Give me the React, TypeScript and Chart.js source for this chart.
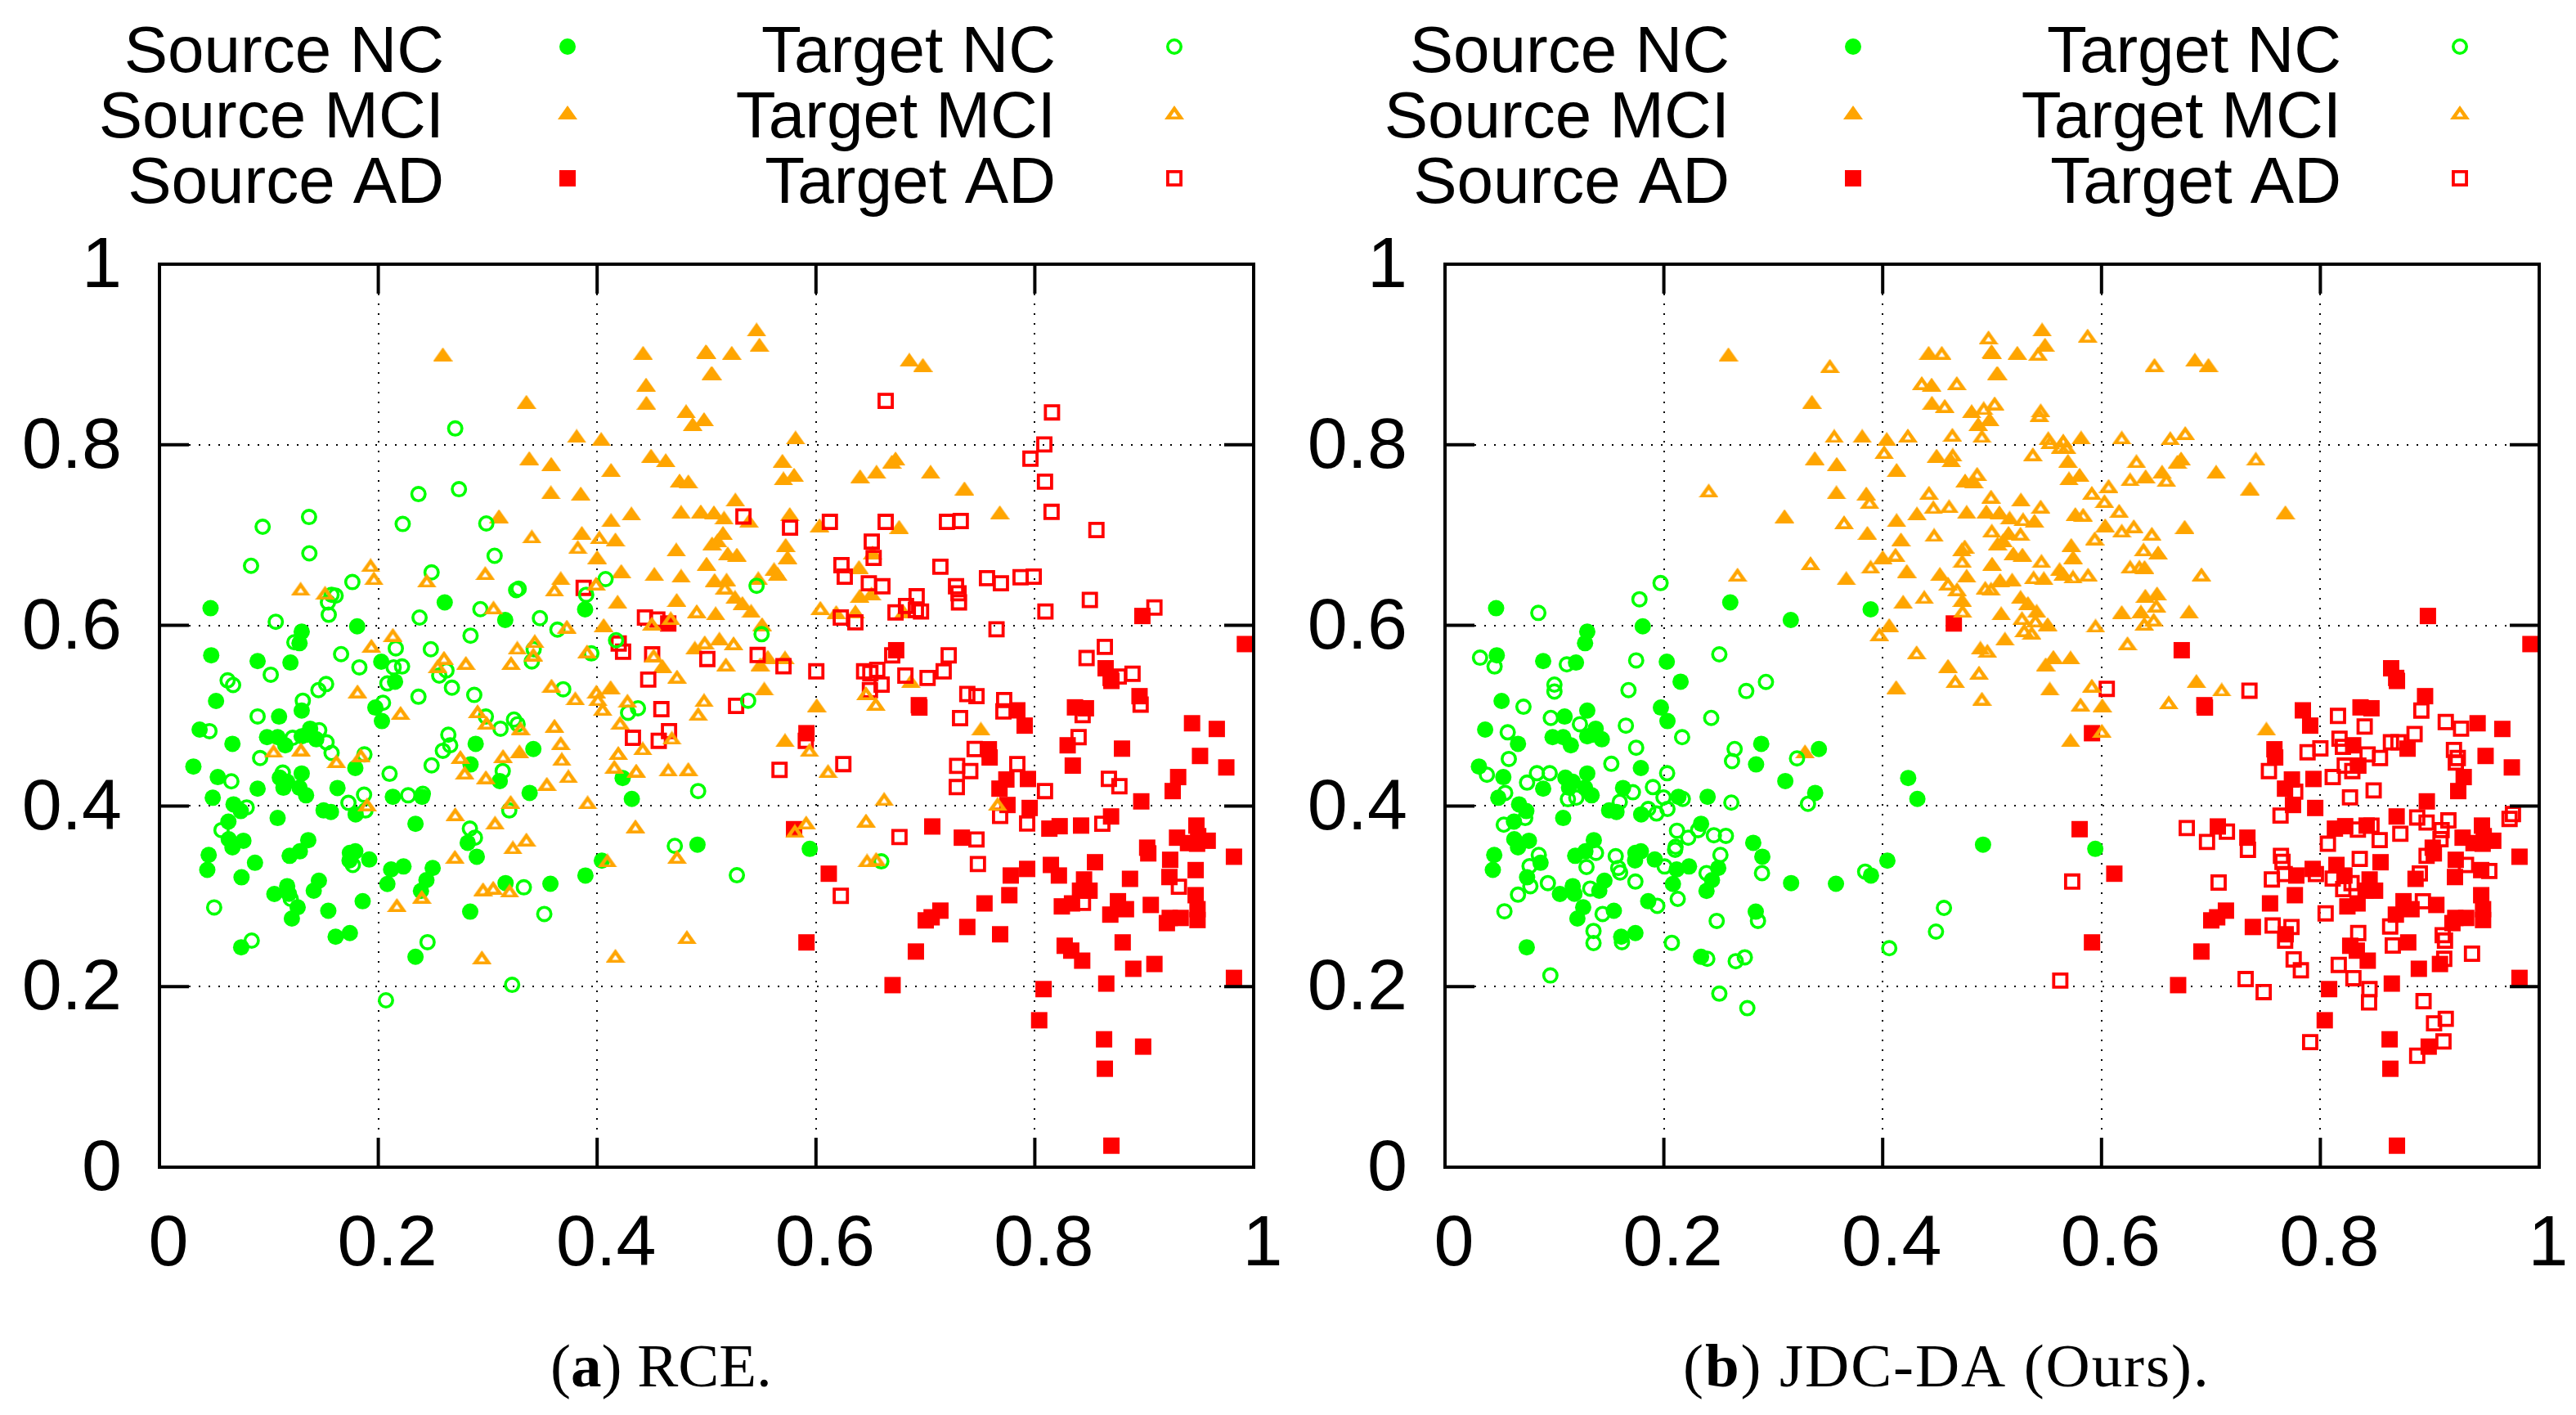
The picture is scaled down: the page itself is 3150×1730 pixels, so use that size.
import React, { useEffect, useRef } from "react";
import { Chart, registerables } from "chart.js";
import { drawPoint } from "chart.js/helpers";

Chart.register(...registerables);

type P = [number, number];

const tickLabels = ["0", "0.2", "0.4", "0.6", "0.8", "1"];
const legendNames = [
  ["Source NC", "Source MCI", "Source AD"],
  ["Target NC", "Target MCI", "Target AD"],
];
const captionA = [["(", "n"], ["a", "b"], [") RCE.", "n"]];
const captionB = [["(", "n"], ["b", "b"], [") JDC-DA (Ours).", "n"]];

const sourceNC: P[] = [
  [.0467,.619],[.2607,.6255],[.1807,.599],[.13,.593],[.128,.5803],[.316,.606],[.389,.6178],[.0473,.5669],[.0897,.5605],[.1197,.5588],
  [.2027,.5598],[.2153,.5377],[.0517,.5163],[.1093,.499],[.13,.5057],[.1973,.509],[.2033,.494],[.0367,.4846],[.0667,.4688],[.0983,.4762],
  [.108,.4762],[.115,.4672],[.13,.4772],[.1377,.4856],[.1433,.4739],[.135,.479],[.179,.442],[.289,.4688],[.3417,.4631],[.2843,.446],
  [.031,.4437],[.0533,.432],[.0897,.4192],[.11,.4313],[.1167,.4269],[.1133,.4202],[.13,.436],[.128,.4202],[.134,.4118],[.1627,.4199],
  [.0487,.4091],[.0677,.4018],[.0743,.3944],[.063,.3827],[.108,.3867],[.15,.3951],[.1567,.3934],[.1793,.3907],[.2133,.4102],[.24,.4102],
  [.311,.4276],[.3383,.4145],[.4233,.431],[.4317,.4078],[.234,.3803],[.2817,.3592],[.29,.3438],[.0633,.3632],[.0767,.3615],[.0667,.3542],
  [.136,.3622],[.1283,.3498],[.119,.3448],[.045,.3458],[.0437,.3293],[.0873,.3371],[.075,.321],[.174,.3481],[.179,.3498],[.1737,.3397],
  [.1917,.3407],[.2117,.3297],[.223,.333],[.2083,.3136],[.2497,.3313],[.244,.3179],[.239,.3059],[.4043,.3394],[.3893,.323],[.3573,.3139],
  [.3163,.3146],[.1167,.3112],[.105,.3025],[.1183,.3028],[.1457,.3173],[.141,.3062],[.1857,.2945],[.1263,.2878],[.121,.2754],[.1543,.284],
  [.284,.283],[.174,.2593],[.161,.2552],[.0747,.2435],[.234,.233],[.4917,.3572],[.5943,.3525],
];

const sourceMCI: P[] = [
  [.259,.9002],[.442,.9019],[.4993,.9035],[.5043,.8794],[.4447,.8667],[.445,.8466],[.3353,.8476],[.4813,.8372],[.4977,.8285],[.4873,.8231],
  [.3813,.8098],[.4037,.8064],[.338,.7853],[.358,.7789],[.4493,.788],[.4627,.783],[.4127,.7722],[.4753,.7605],[.4833,.7595],[.3577,.7474],
  [.385,.7461],[.3103,.721],[.4127,.7166],[.4313,.724],[.4767,.7257],[.4947,.7263],[.5067,.7253],[.386,.7025],[.4167,.6952],[.4723,.6841],
  [.4,.6757],[.422,.6603],[.5,.6684],[.3667,.6523],[.4523,.657],[.4767,.655],[.4187,.6262],[.4727,.6282],[.5083,.6134],[.406,.6004],
  [.4893,.5752],[.4597,.5552],[.4123,.5317],[.5073,.6503],[.505,.6908],[.329,.4605],[.5457,.9277],[.5483,.9109],[.5,.9029],[.523,.9019],
  [.505,.8794],[.5813,.8081],[.5693,.7823],[.5703,.7628],[.58,.7669],[.6403,.7652],[.6553,.7702],[.6693,.7813],[.6727,.7849],[.7047,.7702],
  [.7357,.7518],[.5263,.7394],[.768,.7253],[.516,.7193],[.576,.7233],[.5387,.716],[.6033,.7109],[.676,.7092],[.515,.7025],[.51,.6942],
  [.5723,.6891],[.574,.6757],[.5193,.6798],[.5277,.6784],[.6517,.6808],[.6393,.6647],[.5617,.6623],[.565,.6573],[.5183,.6506],[.5473,.6523],
  [.526,.6315],[.5327,.6248],[.5407,.6161],[.64,.6329],[.6507,.6355],[.5507,.6014],[.5117,.5853],[.556,.5652],[.5717,.5645],[.549,.557],
  [.6867,.5384],[.5527,.53],[.6007,.5116],[.6185,.6148],[.636,.6153],[.68,.6153],[.7507,.4856],[.5717,.4729],[.6853,.8942],[.6977,.8885],
];

const sourceAD: P[] = [
  [.465,.6021],[.6733,.5725],[.8983,.6104],[.992,.5793],[.8647,.5525],[.8693,.5418],[.87,.5385],[.694,.5116],[.6945,.509],[.784,.5059],
  [.8367,.5092],[.8467,.5082],[.8957,.5216],[.9437,.4916],[.9663,.4853],[.5913,.4806],[.7907,.489],[.758,.4628],[.7587,.4537],[.83,.4672],
  [.8797,.4635],[.8347,.4447],[.951,.4554],[.975,.4427],[.931,.432],[.926,.4165],[.774,.4293],[.7937,.4299],[.7677,.4192],[.775,.4011],
  [.7953,.3978],[.8973,.4051],[.8697,.3884],[.7063,.3773],[.7333,.3649],[.8133,.3749],[.8227,.3776],[.8423,.3783],[.9477,.3783],[.93,.3649],
  [.94,.3589],[.9493,.3666],[.958,.3615],[.9483,.3582],[.58,.3743],[.9027,.3538],[.9037,.3475],[.9237,.3404],[.982,.3438],[.855,.3377],
  [.8147,.3347],[.822,.323],[.793,.3303],[.778,.323],[.6117,.325],[.947,.329],[.923,.3213],[.887,.3193],[.845,.3186],[.8413,.3062],
  [.85,.3062],[.7767,.3012],[.754,.2921],[.947,.3012],[.876,.2945],[.906,.2904],[.8247,.2888],[.834,.2921],[.7137,.2841],[.7057,.2767],
  [.7003,.2733],[.8833,.2857],[.869,.2797],[.9487,.2857],[.9487,.2737],[.9233,.276],[.9333,.276],[.9207,.2703],[.7383,.266],[.7683,.2579],
  [.5913,.2489],[.6913,.2388],[.8803,.2489],[.8273,.2452],[.8333,.2398],[.8433,.2287],[.9093,.225],[.89,.2197],[.8653,.2033],[.982,.2096],
  [.67,.2016],[.808,.1972],[.804,.1627],[.8633,.1416],[.899,.1335],[.864,.109],[.87,.0238],
];

const targetNC_a: P[] = [
  [.2703,.8181],[.2737,.7508],[.2367,.7454],[.1367,.72],[.0943,.7092],[.2223,.7123],[.2987,.7129],[.137,.6798],[.0837,.666],[.3063,.6771],
  [.2487,.6587],[.1763,.648],[.3283,.6406],[.326,.639],[.4077,.6513],[.161,.6329],[.1573,.6339],[.154,.6255],[.1547,.6118],[.39,.6339],
  [.2933,.618],[.2377,.6087],[.1063,.604],[.3477,.608],[.3637,.5953],[.2843,.5886],[.1233,.5813],[.216,.5746],[.248,.5736],[.4173,.5836],
  [.342,.5736],[.3947,.569],[.166,.5682],[.3403,.5601],[.1827,.5535],[.1017,.5454],[.2217,.5545],[.214,.5535],[.2623,.5501],[.2557,.5444],
  [.0623,.5391],[.0673,.534],[.2083,.5357],[.1523,.535],[.1453,.5283],[.2673,.531],[.369,.5293],[.2877,.523],[.2367,.521],[.131,.5166],
  [.2043,.5143],[.4373,.5082],[.0897,.4992],[.4283,.5032],[.5457,.6439],[.5503,.5903],[.538,.5166],[.0457,.4829],[.2983,.499],[.324,.4957],
  [.3273,.4906],[.3117,.4856],[.146,.4839],[.1217,.4755],[.264,.4789],[.2657,.4672],[.259,.4611],[.1527,.4705],[.1573,.4588],[.092,.4531],
  [.1873,.4571],[.1127,.437],[.2103,.4356],[.2487,.445],[.0657,.4273],[.3137,.4387],[.187,.4125],[.2273,.4118],[.2407,.4135],[.4923,.4165],
  [.1727,.4035],[.0797,.3984],[.3197,.3951],[.1883,.3951],[.2837,.3749],[.2883,.3649],[.0567,.3733],[.471,.3558],[.1767,.3347],[.333,.3099],
  [.12,.2971],[.05,.2877],[.3517,.2804],[.0843,.2509],[.245,.2492],[.3223,.2019],[.207,.1848],[.5277,.3233],[.6597,.3387],
];

const targetMCI_a: P[] = [
  [.193,.6667],[.196,.6523],[.129,.6406],[.1513,.6362],[.2443,.6496],[.2977,.658],[.3403,.6985],[.402,.6975],[.3823,.6868],[.361,.6396],
  [.399,.6463],[.491,.6158],[.3053,.6198],[.4673,.608],[.45,.602],[.3723,.5987],[.2133,.5896],[.1937,.5776],[.343,.5826],[.327,.5752],
  [.4983,.5813],[.3907,.5712],[.3417,.5679],[.4517,.5669],[.26,.5642],[.28,.5585],[.3213,.5585],[.2543,.5551],[.473,.5434],[.3583,.5334],
  [.3993,.5267],[.38,.5193],[.4007,.5183],[.4977,.5173],[.4277,.5166],[.181,.527],[.2907,.5049],[.2203,.5032],[.405,.5076],[.4923,.5022],
  [.5167,.6422],[.604,.6195],[.5247,.5803],[.5177,.5568],[.6547,.5133],[.6457,.525],[.299,.4923],[.33,.4863],[.361,.489],[.421,.4923],
  [.3667,.4699],[.1043,.4611],[.1293,.4628],[.275,.4544],[.314,.4554],[.3677,.4521],[.184,.4564],[.1617,.4497],[.4193,.4588],[.4417,.4638],
  [.4683,.4756],[.4157,.4437],[.279,.437],[.4357,.4393],[.465,.4403],[.4833,.441],[.2983,.432],[.3737,.433],[.354,.4246],[.321,.4045],
  [.3913,.4041],[.1897,.4018],[.2703,.391],[.3067,.3816],[.435,.3776],[.3353,.3629],[.323,.3542],[.27,.3438],[.4093,.3397],[.473,.3438],
  [.2957,.3079],[.305,.3096],[.32,.3062],[.2397,.2995],[.217,.2904],[.2947,.2324],[.4167,.2341],[.482,.2549],[.594,.4621],[.611,.4387],
  [.6623,.4078],[.766,.4024],[.591,.3817],[.5807,.3723],[.6457,.384],[.6467,.3397],[.655,.3414],
];

const targetAD_a: P[] = [
  [.3877,.6416],[.4437,.6087],[.455,.6064],[.4197,.5799],[.4237,.5709],[.4503,.5679],[.5007,.5628],[.4467,.54],[.4587,.5072],[.4327,.4755],
  [.4563,.4722],[.4657,.4829],[.6637,.8486],[.8157,.8359],[.8087,.8004],[.796,.7846],[.8093,.7592],[.8153,.7257],[.8563,.7056],[.5337,.7206],
  [.5763,.7082],[.6127,.7146],[.6637,.7146],[.7197,.7146],[.7323,.7156],[.651,.6928],[.6527,.6747],[.6233,.6667],[.6263,.654],[.7137,.665],
  [.7563,.6523],[.769,.6466],[.787,.6533],[.799,.654],[.6483,.6466],[.6607,.6433],[.728,.6433],[.7303,.6355],[.7307,.6255],[.692,.6322],
  [.6823,.6215],[.6727,.6144],[.6913,.6171],[.696,.6154],[.8503,.6282],[.8097,.6154],[.9093,.6198],[.6227,.6087],[.636,.6034],[.765,.5957],
  [.5467,.5672],[.5703,.5548],[.6003,.5491],[.864,.5762],[.8473,.5638],[.7213,.5668],[.7167,.5491],[.6697,.5668],[.644,.5491],[.6497,.5471],
  [.656,.5508],[.6817,.5444],[.702,.5418],[.66,.5344],[.6493,.5283],[.7383,.524],[.7467,.5216],[.772,.5173],[.8767,.5434],[.8893,.5464],
  [.527,.5109],[.8967,.5123],[.7317,.4973],[.7713,.5047],[.8437,.5007],[.5907,.4722],[.84,.4762],[.745,.4631],[.784,.4464],[.625,.4464],
  [.5667,.44],[.729,.4444],[.741,.4387],[.7287,.4209],[.8093,.4165],[.8677,.43],[.8773,.4219],[.7683,.389],[.793,.3806],[.8617,.3803],
  [.6763,.3656],[.7467,.3629],[.748,.3357],[.6227,.3005],[.9317,.3106],[.844,.2928],
];

const targetNC_b: P[] = [
  [.197,.6469],[.1777,.6289],[.0853,.6138],[.032,.5642],[.0453,.5545],[.1113,.5568],[.1747,.5612],[.2507,.5679],[.2933,.5374],[.2753,.5273],
  [.1,.5344],[.1,.5267],[.1677,.5283],[.0717,.5099],[.0967,.4975],[.2433,.4975],[.1233,.4906],[.1653,.489],[.0573,.4816],[.2167,.4762],
  [.1747,.4645],[.2647,.4631],[.2623,.4497],[.0583,.4521],[.3217,.4527],[.152,.4467],[.203,.4363],[.0383,.4346],[.084,.4363],[.0957,.4363],
  [.075,.4259],[.19,.4209],[.1717,.4152],[.055,.4145],[.1123,.4075],[.12,.4092],[.1597,.4045],[.1997,.4095],[.2173,.4078],[.2617,.4038],
  [.3317,.4024],[.1857,.3967],[.2033,.3967],[.1933,.3917],[.0733,.3867],[.0537,.3793],[.212,.3726],[.2313,.3733],[.2223,.3649],[.2457,.3676],
  [.2567,.3669],[.138,.3481],[.2107,.3548],[.2103,.3515],[.156,.3444],[.0857,.3458],[.2517,.3458],[.0773,.3334],[.1293,.3324],[.1583,.3314],
  [.16,.3263],[.2007,.333],[.239,.3257],[.2897,.3257],[.384,.3273],[.094,.3146],[.078,.3112],[.174,.3163],[.1327,.3085],[.0667,.3018],
  [.2127,.2971],[.194,.2894],[.0543,.2834],[.144,.2804],[.456,.2871],[.2483,.2727],[.286,.2727],[.4487,.2609],[.1357,.2616],[.1357,.2482],
  [.1617,.2492],[.2073,.2485],[.2397,.2308],[.2657,.2281],[.274,.2324],[.406,.2425],[.0963,.2123],[.2507,.1922],[.2763,.1761],
];

const targetMCI_b: P[] = [
  [.4967,.919],[.454,.9019],[.3517,.8875],[.4357,.8684],[.4677,.8684],[.4567,.8432],[.4923,.8406],[.5023,.846],[.3557,.8098],[.423,.8104],
  [.4637,.8111],[.4907,.8098],[.4013,.792],[.464,.789],[.4863,.7679],[.241,.7494],[.4423,.747],[.499,.7427],[.388,.7367],[.4463,.731],
  [.4607,.732],[.3647,.7143],[.4997,.7049],[.447,.7002],[.475,.6875],[.4117,.6784],[.4727,.6714],[.334,.669],[.389,.665],[.2673,.6563],
  [.4597,.6463],[.468,.6402],[.4937,.6416],[.499,.6406],[.438,.6315],[.473,.6161],[.397,.5903],[.431,.5702],[.488,.5478],[.4663,.5384],
  [.4907,.5189],[.5873,.921],[.542,.9009],[.6484,.8885],[.5444,.8382],[.5431,.8332],[.5513,.8074],[.553,.803],[.565,.8047],[.5678,.798],
  [.5626,.798],[.6185,.8081],[.6628,.8074],[.6765,.8131],[.5372,.7896],[.6319,.7819],[.741,.7846],[.6261,.7618],[.6593,.7612],[.6065,.7545],
  [.5911,.7468],[.6027,.7377],[.5444,.7317],[.5832,.7227],[.5283,.7176],[.6161,.727],[.6295,.7099],[.6185,.7049],[.5259,.7015],[.5938,.6965],
  [.646,.7015],[.6384,.6841],[.5451,.6714],[.6261,.665],[.6346,.665],[.5379,.6533],[.5739,.654],[.5877,.6563],[.6913,.6566],[.6501,.6222],
  [.5273,.6081],[.5396,.6054],[.6477,.6064],[.6391,.602],[.5945,.5997],[.5293,.5947],[.5362,.592],[.6237,.5803],[.4957,.5719],[.5911,.5334],
  [.7098,.529],[.5808,.5126],[.6614,.5149],[.6003,.4833],
];

const targetAD_b: P[] = [
  [.6048,.5297],[.7352,.5277],[.8161,.4997],[.8923,.5057],[.8405,.488],[.9146,.493],[.9286,.4856],[.8861,.4796],[.8175,.4745],[.8645,.4705],
  [.8714,.4705],[.8206,.4655],[.8,.4638],[.7883,.4595],[.8432,.4571],[.8545,.4531],[.9221,.4621],[.9256,.4531],[.9238,.4481],[.8223,.4447],
  [.8292,.4387],[.753,.4387],[.8113,.432],[.8487,.4172],[.777,.4159],[.8271,.4095],[.7636,.3894],[.6779,.3756],[.7146,.3716],[.6964,.3602],
  [.7338,.3515],[.8069,.3582],[.8343,.3739],[.8542,.3622],[.8467,.3783],[.8731,.3692],[.8885,.3873],[.8971,.3817],[.917,.384],[.9108,.3733],
  [.9098,.3632],[.976,.3911],[.9729,.3857],[.8971,.3448],[.836,.3414],[.764,.3448],[.7654,.3381],[.7674,.3246],[.7557,.3186],[.5732,.3163],
  [.707,.3152],[.7959,.3246],[.8113,.3196],[.8209,.3079],[.8285,.3146],[.8909,.3253],[.9331,.3347],[.9544,.328],[.8937,.2945],[.8048,.2811],
  [.8638,.2666],[.7564,.2676],[.7736,.266],[.7678,.2509],[.8346,.2593],[.9118,.2569],[.9139,.2509],[.8662,.2455],[.9386,.2364],[.9132,.2307],
  [.7756,.2301],[.7822,.218],[.8168,.224],[.8302,.2093],[.7317,.2083],[.5623,.2066],[.7482,.1939],[.8449,.1972],[.8445,.1825],[.8943,.1838],
  [.9146,.1643],[.9039,.1593],[.9125,.1392],[.7907,.1385],[.8885,.1234],
];

const GREEN = "#00ff00";
const ORANGE = "#ffa500";
const RED = "#ff0000";

function triangle(open: boolean): HTMLCanvasElement {
  const w = 24, h = 17;
  const c = document.createElement("canvas");
  c.width = w;
  c.height = h;
  const g = c.getContext("2d")!;
  g.fillStyle = ORANGE;
  g.beginPath();
  g.moveTo(w / 2, 0);
  g.lineTo(w, h);
  g.lineTo(0, h);
  g.closePath();
  g.fill();
  if (open) {
    g.globalCompositeOperation = "destination-out";
    g.beginPath();
    g.moveTo(w / 2, h - 9.5);
    g.lineTo(w / 2 + 4, h - 3.5);
    g.lineTo(w / 2 - 4, h - 3.5);
    g.closePath();
    g.fill();
  }
  return c;
}

type Style = { pointStyle: any; pointRadius: number; pointBorderWidth: number; pointBackgroundColor: string; pointBorderColor: string };

function styles(): Style[] {
  const none = "rgba(0,0,0,0)";
  const triF = triangle(false);
  const triO = triangle(true);
  return [
    { pointStyle: "circle", pointRadius: 10, pointBorderWidth: 0, pointBackgroundColor: GREEN, pointBorderColor: GREEN },
    { pointStyle: triF, pointRadius: 10, pointBorderWidth: 0, pointBackgroundColor: ORANGE, pointBorderColor: ORANGE },
    { pointStyle: "rect", pointRadius: 14.14, pointBorderWidth: 0, pointBackgroundColor: RED, pointBorderColor: RED },
    { pointStyle: "circle", pointRadius: 8.2, pointBorderWidth: 3.6, pointBackgroundColor: none, pointBorderColor: GREEN },
    { pointStyle: triO, pointRadius: 10, pointBorderWidth: 0, pointBackgroundColor: ORANGE, pointBorderColor: ORANGE },
    { pointStyle: "rect", pointRadius: 11.4, pointBorderWidth: 3.8, pointBackgroundColor: none, pointBorderColor: RED },
  ];
}

const toXY = (a: P[]) => a.map(([x, y]) => ({ x, y }));

function makeChart(canvas: HTMLCanvasElement, tNC: P[], tMCI: P[], tAD: P[], caption: string[][], captionX: number, spacing: string) {
  const st = styles();
  const series: P[][] = [sourceNC, sourceMCI, sourceAD, tNC, tMCI, tAD];
  const names = [...legendNames[0], ...legendNames[1]];
  const orders = [6, 5, 3, 2, 1, 4];
  const frame = {
    id: "frame",
    afterDatasetsDraw(chart: any) {
      const { ctx, chartArea: a, scales } = chart;
      ctx.save();
      ctx.strokeStyle = "#000";
      ctx.lineWidth = 4;
      ctx.beginPath();
      for (let v = 1; v < 5; v++) {
        const px = scales.x.getPixelForValue(v / 5);
        ctx.moveTo(px, a.top); ctx.lineTo(px, a.top + 36);
        ctx.moveTo(px, a.bottom); ctx.lineTo(px, a.bottom - 36);
        const py = scales.y.getPixelForValue(v / 5);
        ctx.moveTo(a.left, py); ctx.lineTo(a.left + 36, py);
        ctx.moveTo(a.right, py); ctx.lineTo(a.right - 36, py);
      }
      ctx.stroke();
      ctx.strokeRect(a.left, a.top, a.right - a.left, a.bottom - a.top);

      // legend
      ctx.fillStyle = "#000";
      ctx.font = '80px "Liberation Sans"';
      ctx.textAlign = "right";
      ctx.textBaseline = "alphabetic";
      const textRight = [543, 1291];
      const markX = [694, 1436];
      for (let col = 0; col < 2; col++) {
        for (let row = 0; row < 3; row++) {
          ctx.fillStyle = "#000";
          ctx.fillText(legendNames[col][row], textRight[col], 88 + row * 80);
          const s = st[col * 3 + row];
          ctx.fillStyle = s.pointBackgroundColor;
          ctx.strokeStyle = s.pointBorderColor;
          ctx.lineWidth = s.pointBorderWidth;
          drawPoint(ctx, { pointStyle: s.pointStyle, radius: s.pointRadius, borderWidth: s.pointBorderWidth, rotation: 0 }, markX[col], 57 + row * 80.5);
        }
      }

      // caption
      ctx.fillStyle = "#000";
      ctx.textAlign = "left";
      (ctx as any).letterSpacing = spacing;
      let x = captionX;
      for (const [t, w] of caption) {
        ctx.font = (w === "b" ? "bold " : "") + '75px "Liberation Serif"';
        ctx.fillText(t, x, 1695);
        x += ctx.measureText(t).width;
      }
      ctx.restore();
    },
  };
  const font = { family: '"Liberation Sans"', size: 88 };
  return new Chart(canvas, {
    type: "scatter",
    data: {
      datasets: series.map((d, i) => ({
        label: names[i],
        data: toXY(d),
        order: orders[i],
        ...st[i],
      })),
    },
    plugins: [frame],
    options: {
      animation: false,
      responsive: false,
      devicePixelRatio: 1,
      layout: { autoPadding: false, padding: { left: 0, right: 45, top: 323, bottom: 0 } },
      plugins: { legend: { display: false }, tooltip: { enabled: false } },
      scales: {
        x: {
          type: "linear",
          min: 0,
          max: 1,
          afterFit: (s: any) => { s.height = 303; s.paddingLeft = 0; s.paddingRight = 0; },
          border: { display: false, dash: [2, 10] },
          grid: { color: "#000", lineWidth: 2, drawTicks: false },
          ticks: {
            stepSize: 0.2,
            autoSkip: false,
            maxRotation: 0,
            minRotation: 0,
            padding: 43,
            labelOffset: 11,
            color: "#000",
            font,
            callback: (_v: any, i: number) => tickLabels[i],
          },
        },
        y: {
          type: "linear",
          min: 0,
          max: 1,
          afterFit: (s: any) => { s.width = 195; s.paddingTop = 0; s.paddingBottom = 0; },
          border: { display: false, dash: [2, 10] },
          grid: { color: "#000", lineWidth: 2, drawTicks: false },
          ticks: {
            stepSize: 0.2,
            autoSkip: false,
            padding: 46,
            labelOffset: 4,
            color: "#000",
            font,
            callback: (_v: any, i: number) => tickLabels[i],
          },
        },
      },
    },
  } as any);
}

export default function App() {
  const a = useRef<HTMLCanvasElement>(null);
  const b = useRef<HTMLCanvasElement>(null);
  useEffect(() => {
    document.body.style.margin = "0";
    const c1 = makeChart(a.current!, targetNC_a, targetMCI_a, targetAD_a, captionA, 673, "0px");
    const c2 = makeChart(b.current!, targetNC_b, targetMCI_b, targetAD_b, captionB, 486, "1.9px");
    return () => {
      c1.destroy();
      c2.destroy();
    };
  }, []);
  const cs: React.CSSProperties = { position: "absolute", top: 0, width: 1578, height: 1730 };
  return (
    <div style={{ position: "absolute", left: 0, top: 0, width: 3150, height: 1730, background: "#fff", overflow: "hidden" }}>
      <canvas ref={a} width={1578} height={1730} style={{ ...cs, left: 0 }} />
      <canvas ref={b} width={1578} height={1730} style={{ ...cs, left: 1572 }} />
    </div>
  );
}
